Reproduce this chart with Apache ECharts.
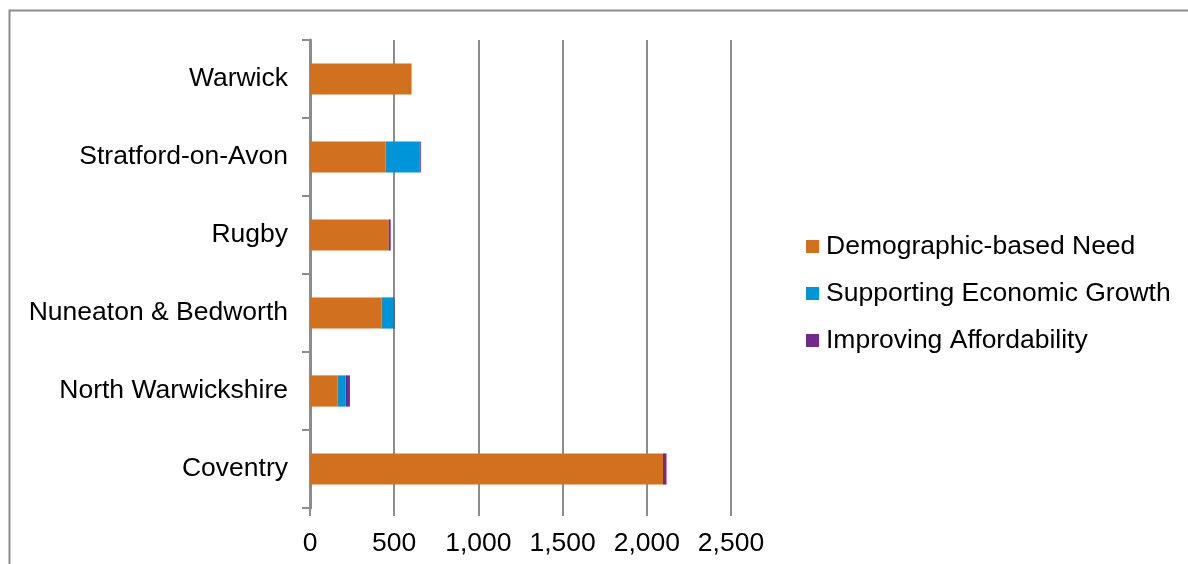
<!DOCTYPE html>
<html><head><meta charset="utf-8">
<script src="https://cdn.jsdelivr.net/npm/echarts@6/dist/echarts.min.js"></script>
<style>html,body{margin:0;padding:0;background:#fff;overflow:hidden}#c{width:1188px;height:564px}</style>
</head><body><div id="c"></div>
<script>
const categories = ['Coventry','North Warwickshire','Nuneaton & Bedworth','Rugby','Stratford-on-Avon','Warwick'];
const demographic = [2096, 164, 425, 467, 449, 603];
const economic = [0, 48, 71, 0, 203, 0];
const affordability = [21, 25, 6, 12, 6, 0];
const seriesNames = ['Demographic-based Need','Supporting Economic Growth','Improving Affordability'];
const colors = ['#D1711F','#0094D8','#722A8A'];
const xTicks = {min:0, max:2500, interval:500};

const chart = echarts.init(document.getElementById('c'), null, {renderer:'canvas'});
const font = 'Liberation Sans, Arial, sans-serif';
const fs = 26.5;
const mk = (name, data, i) => ({
  name, type:'bar', stack:'total', data, barWidth:'40%',
  itemStyle:{color:colors[i]}, silent:true
});
chart.setOption({
  animation:false,
  backgroundColor:'#fff',
  graphic:[{type:'rect', left:7, top:8, shape:{x:0,y:0,width:1300,height:700}, style:{fill:'none', stroke:'#8c8c8c', lineWidth:2}, silent:true}],
  grid:{left:310, right:457, top:40, bottom:56, containLabel:false},
  legend:{
    orient:'vertical', left:801, top:228, itemWidth:13, itemHeight:13, itemGap:20, icon:'rect',
    textStyle:{fontFamily:font, fontSize:fs, color:'#000', padding:[0,0,0,2]},
    data:seriesNames
  },
  xAxis:{
    type:'value', min:xTicks.min, max:xTicks.max, interval:xTicks.interval,
    axisLine:{show:false},
    axisTick:{show:true, length:8, lineStyle:{color:'#8c8c8c', width:2}},
    splitLine:{show:true, lineStyle:{color:'#8c8c8c', width:2}},
    axisLabel:{fontFamily:font, fontSize:fs, color:'#000', margin:22,
      formatter:v=>v.toLocaleString('en-US')}
  },
  yAxis:{
    type:'category', data:categories,
    axisLine:{show:true, lineStyle:{color:'#8c8c8c', width:3}},
    axisTick:{show:true, length:8, lineStyle:{color:'#8c8c8c', width:2}},
    axisLabel:{fontFamily:font, fontSize:fs, color:'#000', margin:22}
  },
  series:[mk(seriesNames[0],demographic,0), mk(seriesNames[1],economic,1), mk(seriesNames[2],affordability,2)]
});
</script></body></html>
